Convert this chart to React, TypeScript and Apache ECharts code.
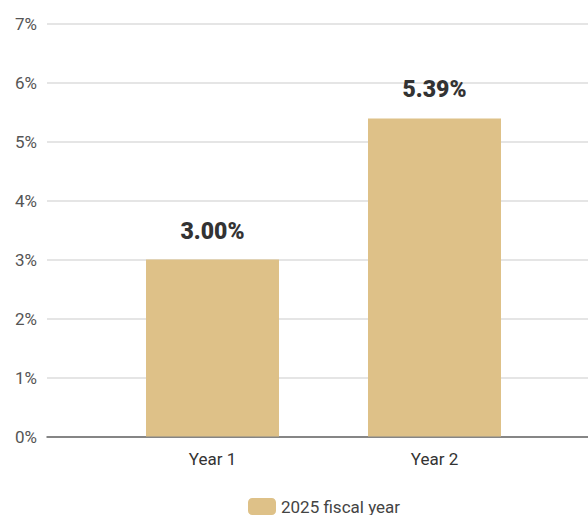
import React, { useEffect, useRef } from "react";
import * as echarts from "echarts";

const categories = ["Year 1", "Year 2"];
const seriesName = "2025 fiscal year";
const values = [3.0, 5.39];
const yMin = 0;
const yMax = 7;
const yInterval = 1;

export default function App() {
  const ref = useRef<HTMLDivElement>(null);
  useEffect(() => {
    if (!ref.current) return;
    const chart = echarts.init(ref.current, null, { renderer: "svg" });
    const font = "Roboto, 'Noto Sans', sans-serif";
    chart.setOption({
      animation: false,
      textStyle: { fontFamily: font },
      grid: [
        { left: 47, right: 0, top: 23.5, bottom: 78.5, containLabel: false },
        { left: 101.5, right: 42.5, top: 23.5, bottom: 78.5, containLabel: false },
      ],
      legend: {
        data: [seriesName],
        left: 243,
        top: 493,
        itemWidth: 28,
        itemHeight: 17,
        itemGap: 9,
        icon: "roundRect",
        textStyle: { fontSize: 17, color: "#444", fontFamily: font },
      },
      xAxis: [
        {
          type: "category",
          gridIndex: 0,
          data: categories,
          axisLine: { show: true, lineStyle: { color: "#666", width: 1.5 } },
          axisTick: { show: false },
          axisLabel: { show: false },
        },
        {
          type: "category",
          gridIndex: 1,
          data: categories,
          axisLine: { show: false },
          axisTick: { show: false },
          axisLabel: {
            fontSize: 17,
            color: "#333",
            fontWeight: "normal",
            margin: 14,
            fontFamily: font,
          },
        },
      ],
      yAxis: [
        {
          type: "value",
          gridIndex: 0,
          min: yMin,
          max: yMax,
          interval: yInterval,
          axisLine: { show: false },
          axisTick: { show: false },
          splitLine: { lineStyle: { color: "#dcdcdc", width: 1.5 } },
          axisLabel: {
            formatter: "{value}%",
            fontSize: 17,
            color: "#555",
            margin: 10,
            fontFamily: font,
          },
        },
        {
          type: "value",
          gridIndex: 1,
          min: yMin,
          max: yMax,
          interval: yInterval,
          show: false,
          splitLine: { show: false },
        },
      ],
      series: [
        {
          name: seriesName,
          type: "bar",
          xAxisIndex: 1,
          yAxisIndex: 1,
          data: values,
          barWidth: 133,
          itemStyle: { color: "#dec188" },
          label: {
            show: true,
            position: "top",
            distance: 17,
            formatter: (p: any) => p.value.toFixed(2) + "%",
            fontSize: 23,
            fontWeight: 900,
            color: "#333",
            fontFamily: font,
          },
        },
      ],
    });
    return () => chart.dispose();
  }, []);
  return <div ref={ref} style={{ width: 588, height: 515, position: "absolute", left: 0, top: 0 }} />;
}
